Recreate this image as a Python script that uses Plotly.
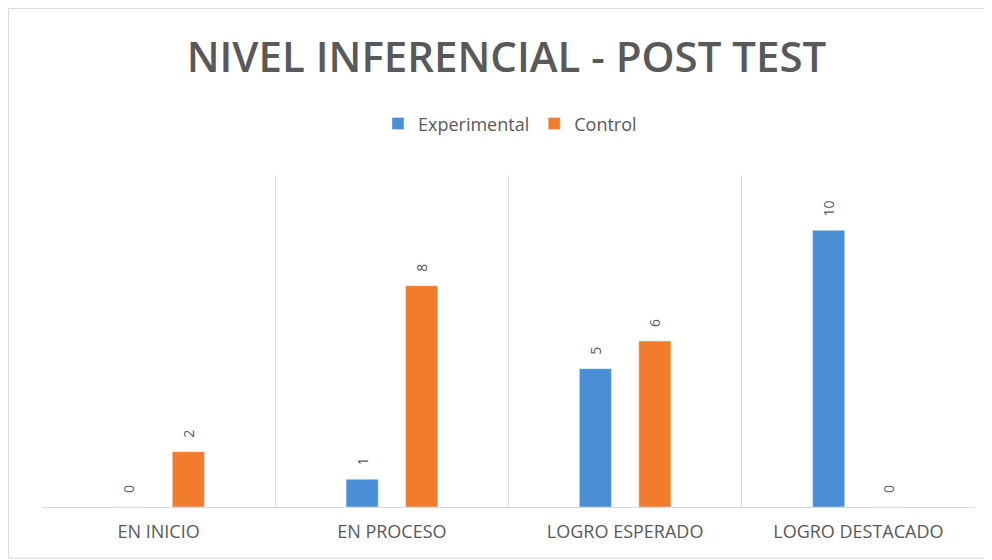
import plotly.graph_objects as go

categories = ["EN INICIO", "EN PROCESO", "LOGRO ESPERADO", "LOGRO DESTACADO"]
experimental = [0, 1, 5, 10]
control = [2, 8, 6, 0]

BLUE = "#4a8fd6"
ORANGE = "#f07c2c"
GREY = "#595959"
PAD = "\u00a0\u00a0\u00a0"

fig = go.Figure()
fig.add_trace(go.Bar(x=categories, y=experimental, name="Experimental",
                     marker_color=BLUE, text=experimental, texttemplate=PAD + "%{y}",
                     textposition="outside",
                     textangle=-90, textfont=dict(color=GREY, size=14),
                     cliponaxis=False))
fig.add_trace(go.Bar(x=categories, y=control, name="Control",
                     marker_color=ORANGE, text=control, texttemplate=PAD + "%{y}",
                     textposition="outside",
                     textangle=-90, textfont=dict(color=GREY, size=14),
                     cliponaxis=False))

fig.update_layout(
    width=992, height=560,
    paper_bgcolor="white", plot_bgcolor="white",
    font=dict(family="Open Sans, sans-serif", color=GREY),
    title=dict(text="NIVEL INFERENCIAL - POST TEST", x=0.5025, xanchor="center",
               y=0.9125, yanchor="middle",
               font=dict(size=42, color=GREY, family="Open Sans, sans-serif", weight=600)),
    legend=dict(orientation="h", x=0.5016, xanchor="center", y=1.154, yanchor="middle",
                font=dict(size=18, color=GREY), itemwidth=30, traceorder="normal"),
    barmode="group", bargap=0.49, bargroupgap=0.46,
    margin=dict(l=34, r=25, t=167, b=61, autoexpand=False),
    showlegend=True,
)
fig.update_xaxes(tickson="boundaries", showgrid=True, gridcolor="#d9d9d9", gridwidth=1,
                 ticks="", showline=True, linecolor="#d9d9d9", automargin=False,
                 tickfont=dict(size=18, color=GREY), ticklabelstandoff=8)
fig.update_yaxes(range=[0, 12], showgrid=False, showticklabels=False, zeroline=False,
                 automargin=False)

fig.add_shape(type="rect", xref="paper", yref="paper", x0=-0.0359, x1=1.016,
              y0=-0.154, y1=1.5015, line=dict(color="#d9d9d9", width=1))

fig.write_html("out.html")
